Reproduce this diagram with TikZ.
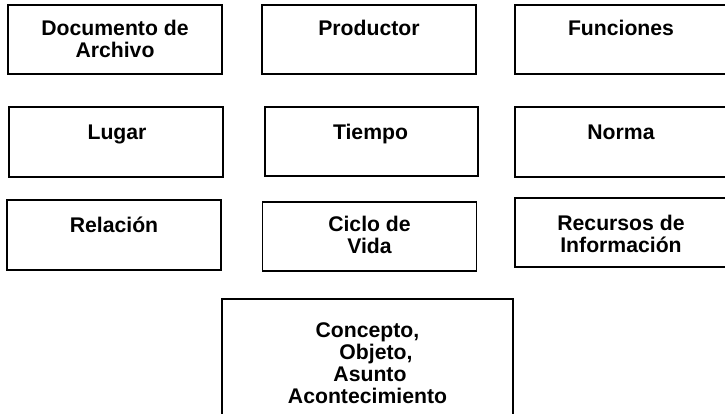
\documentclass[tikz,border=0pt]{standalone}
\usepackage{fontspec}
\setmainfont{Liberation Sans}
\usetikzlibrary{calc}

\begin{document}
\begin{tikzpicture}[
      x=0.75pt, y=0.75pt,
      box/.style={
                rectangle,
                draw=black,
                line width=1.2pt,
                inner sep=0pt,
                minimum width=160.5pt,
                minimum height=52pt,
                fill=white
                },
      boxtext/.style={
                anchor=north,
                inner sep=0pt,
                align=center,
                font=\bfseries\fontsize{15.9}{16.5}\selectfont
                }
]

\clip (0,0) rectangle (725,-414);

% first row
\node[box] (doc) at (115,-39.5) {};
\node[box] (prod) at (369,-39.5) {};
\node[box, minimum width=159pt] (func) at (621,-39.5) {};

% second row
\node[box, minimum height=52.5pt] (lugar) at (116,-142) {};
\node[box, minimum width=159.75pt] (tiempo) at (371.5,-141.5) {};
\node[box, minimum width=159pt, minimum height=52.5pt] (norma) at (621,-142) {};

% third row
\node[box, minimum height=52.5pt] (relacion) at (114,-235) {};
\node[box] (ciclo) at (369.5,-236.5) {};
\node[box, minimum width=159pt] (recursos) at (621,-232.5) {};

% last one, cut by the border
\node[box, minimum width=218.25pt, minimum height=90.75pt] (concepto) at (367.5,-359.5) {};

\node[boxtext] (docT) at ($ (doc.north) + (0,-16) $) {Documento de\\Archivo};
\node[boxtext] (prodT) at ($ (prod.north) + (0,-16) $) {Productor};
\node[boxtext] (funcT) at ($ (func.north) + (0,-16) $) {Funciones};

\node[boxtext] (lugarT) at ($ (lugar.north) + (1,-18) $) {Lugar};
\node[boxtext] (tiempoT) at ($ (tiempo.north) + (-1,-18) $) {Tiempo};
\node[boxtext] (normaT) at ($ (norma.north) + (0,-18) $) {Norma};

\node[boxtext] (relacionT) at ($ (relacion.north) + (0,-17) $) {Relación};
\node[boxtext] (cicloT) at ($ (ciclo.north) + (0,-15) $) {Ciclo de\\Vida};
\node[boxtext] (recursosT) at ($ (recursos.north) + (0,-17.5) $) {Recursos de\\Información};

\node[boxtext] (conceptoT) at ($ (concepto.north) + (0,-24) $)
  {Concepto,\hspace{3pt}\\\hspace{12.75pt}Objeto,\\\hspace{3.75pt}Asunto\\Acontecimiento};

\end{tikzpicture}
\end{document}
